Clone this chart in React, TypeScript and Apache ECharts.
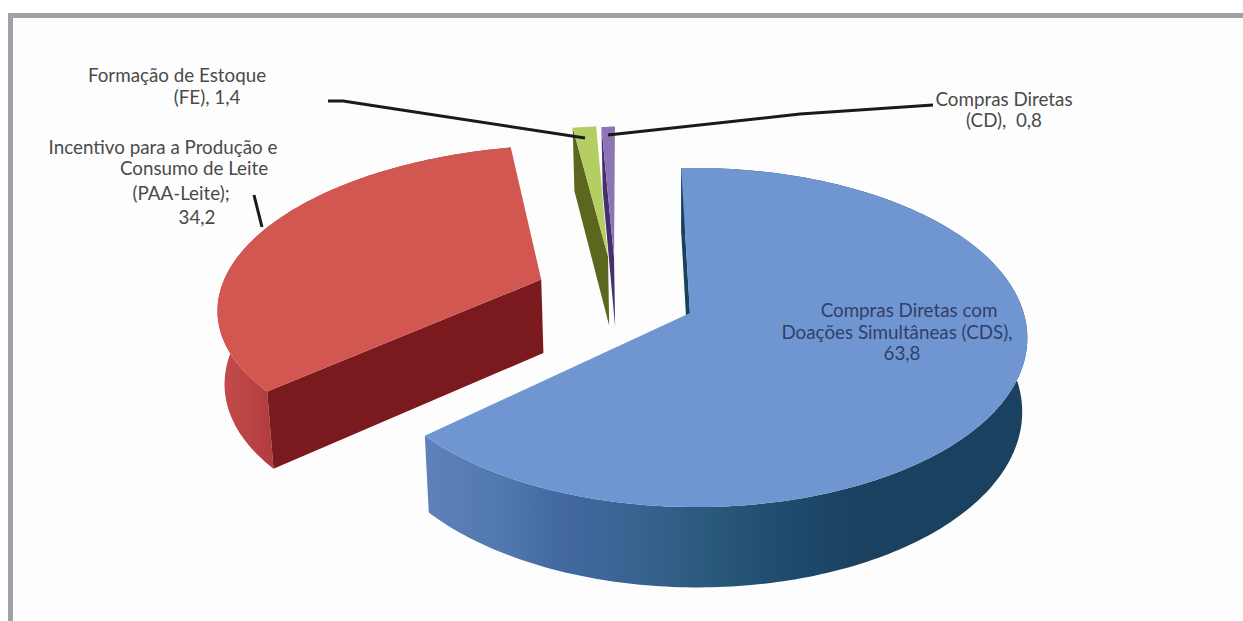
import React, { useEffect, useRef } from "react";
import * as echarts from "echarts";

// Shares of each programme, in percent, clockwise from the top of the pie.
const categories = [
  "Compras Diretas com Doações Simultâneas (CDS)",
  "Incentivo para a Produção e Consumo de Leite (PAA-Leite)",
  "Formação de Estoque (FE)",
  "Compras Diretas (CD)",
];
const shares = [63.8, 34.2, 1.4, 0.8];

// Perspective of the disc: unit-circle coordinates are carried to the page.
const CX = 688, CY = 313, AX = 326, BY = 166, KY = 0.1445;
const START_DEG = -1.7;
const DEPTH = 72, DEPTH_POW = 0.7, FLOOR_SHRINK = 0.985;

// Per slice: explosion and radial stretch in disc units, sideways perspective, wall height.
const offsets = [[0.006, 0], [-0.47, -0.21], [-0.26, -0.36], [-0.24, -0.352]];
const stretch = [[1.008, 1], [1.06, 0.99], [1, 1], [1, 1]];
const sideways = [0.015, 0.0288, 0.0288, 0.0288];
const wallScale = [1, 1.05, 1, 1];

const topColors = ["#7096d1", "#d15750", "#b5ce63", "#8f74b5"];
const cutColors = ["#18415f", "#7b1a1e", "#5b671f", "#44306c"];
// The two narrow slices point away from the viewer, so their rims stay hidden.
const rimFills: any[] = [
  {
    type: "linear", x: 0, y: 0, x2: 1, y2: 0,
    colorStops: [
      { offset: 0, color: "#6080ba" },
      { offset: 0.126, color: "#507aae" },
      { offset: 0.225, color: "#4369a0" },
      { offset: 0.36, color: "#38628f" },
      { offset: 0.49, color: "#29577a" },
      { offset: 0.557, color: "#224f72" },
      { offset: 0.72, color: "#1a4160" },
      { offset: 1, color: "#1a4160" },
    ],
  },
  {
    type: "linear", x: 0, y: 0, x2: 1, y2: 0,
    colorStops: [
      { offset: 0, color: "#c34e4d" },
      { offset: 0.2, color: "#b23a3d" },
      { offset: 1, color: "#b23a3d" },
    ],
  },
  null,
  null,
];

function project(x: number, y: number, kx: number) {
  const d = 1 - kx * x - KY * y;
  return { X: CX + (AX * x) / d, Y: CY + (BY * y) / d, d };
}
function floorOf(p: { X: number; Y: number; d: number }, scale: number): number[] {
  return [CX + (p.X - CX) * FLOOR_SHRINK, p.Y + (DEPTH * scale) / Math.pow(p.d, DEPTH_POW)];
}

const total = shares.reduce((a, b) => a + b, 0);

function renderSlice(params: any, api: any) {
  const i = params.dataIndex;
  const before = shares.slice(0, i).reduce((a, b) => a + b, 0);
  const a0 = START_DEG + (before / total) * 360;
  const a1 = a0 + (api.value(0) / total) * 360;
  const [ox, oy] = offsets[i];
  const [sx, sy] = stretch[i];
  const kx = sideways[i];
  const wall = wallScale[i];

  const arc: { X: number; Y: number; d: number }[] = [];
  const steps = Math.max(4, Math.ceil(a1 - a0));
  for (let s = 0; s <= steps; s++) {
    const t = ((a0 + ((a1 - a0) * s) / steps) * Math.PI) / 180;
    arc.push(project(ox + sx * Math.sin(t), oy - sy * Math.cos(t), kx));
  }
  const apex = project(ox, oy, kx);
  const top = [[apex.X, apex.Y], ...arc.map((p) => [p.X, p.Y])];
  const rim = [
    ...arc.map((p) => [p.X, p.Y]),
    ...arc.slice().reverse().map((p) => floorOf(p, wall)),
  ];
  const cut = [[apex.X, apex.Y], [arc[0].X, arc[0].Y], floorOf(arc[0], wall), floorOf(apex, wall)];

  const children: any[] = [];
  if (rimFills[i]) {
    children.push({ type: "polygon", shape: { points: rim }, style: { fill: rimFills[i] } });
  }
  children.push({ type: "polygon", shape: { points: cut }, style: { fill: cutColors[i] } });
  children.push({ type: "polygon", shape: { points: top }, style: { fill: topColors[i] } });
  return { type: "group", children };
}

// One entry per drawn line of the slice labels.
const labelLines = [
  "Formação de Estoque", "(FE), 1,4",
  "Incentivo para a Produção e", "Consumo de Leite", "(PAA-Leite);", "34,2",
  "Compras Diretas", "(CD),  0,8",
  "Compras Diretas com", "Doações Simultâneas (CDS),", "63,8",
];
const labelAnchors = [
  [177, 74], [207, 96],
  [163, 146], [194, 167], [181, 192], [197, 216],
  [1004, 98], [1004, 119],
  [909, 309], [897, 331], [902, 352],
];
const labelColors = [
  "#4a4a4a", "#4a4a4a", "#4a4a4a", "#4a4a4a", "#4a4a4a", "#4a4a4a",
  "#4a4a4a", "#4a4a4a", "#303f68", "#303f68", "#303f68",
];

const leaders = [
  [[328, 101], [343, 101], [585, 138]],
  [[608, 135], [800, 114], [933, 105]],
  [[254, 195], [262, 227]],
];

export default function App() {
  const ref = useRef<HTMLDivElement>(null);
  useEffect(() => {
    const chart = echarts.init(ref.current!, undefined, { renderer: "svg" });
    chart.setOption({
      animation: false,
      backgroundColor: "#ffffff",
      graphic: [
        { type: "rect", shape: { x: 13, y: 18, width: 1230, height: 603 }, style: { fill: "#fdfdfd" }, z: 0 },
        { type: "rect", shape: { x: 8, y: 13, width: 1235, height: 5 }, style: { fill: "#a0a0a8" }, z: 0 },
        { type: "rect", shape: { x: 8, y: 13, width: 5, height: 608 }, style: { fill: "#a0a0a8" }, z: 0 },
        ...leaders.map((points) => ({
          type: "polyline",
          z: 10,
          shape: { points },
          style: { stroke: "#1a1a1a", lineWidth: 3, fill: "none" },
        })),
        ...labelLines.map((text, i) => ({
          type: "text",
          z: 11,
          x: labelAnchors[i][0],
          y: labelAnchors[i][1],
          style: {
            text,
            fill: labelColors[i],
            font: "18.8px Lato, sans-serif",
            align: "center",
            verticalAlign: "middle",
          },
        })),
      ],
      series: [
        {
          type: "custom",
          name: "PAA",
          coordinateSystem: "none",
          silent: true,
          z: 5,
          renderItem: renderSlice,
          data: shares.map((v, i) => ({ name: categories[i], value: [v] })),
        },
      ],
    });
    return () => chart.dispose();
  }, []);
  return <div ref={ref} style={{ position: "absolute", left: 0, top: 0, width: 1243, height: 621 }} />;
}
